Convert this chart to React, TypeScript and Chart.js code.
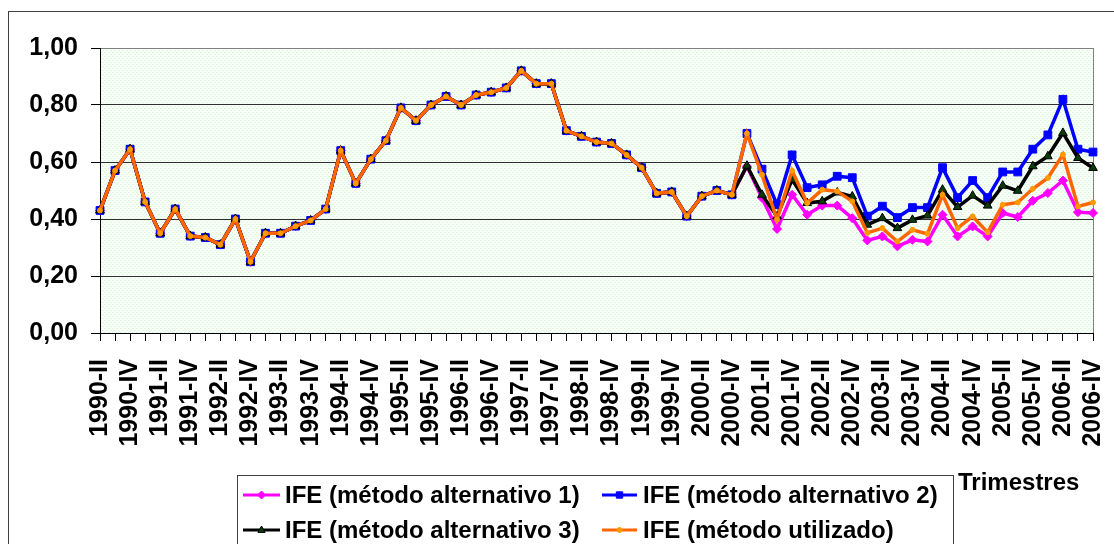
import React, { useEffect, useRef } from 'react';
import { Chart, registerables } from 'chart.js';

Chart.register(...registerables);

const quarters = [
  '1990-II', '1990-III', '1990-IV',
  '1991-I', '1991-II', '1991-III', '1991-IV',
  '1992-I', '1992-II', '1992-III', '1992-IV',
  '1993-I', '1993-II', '1993-III', '1993-IV',
  '1994-I', '1994-II', '1994-III', '1994-IV',
  '1995-I', '1995-II', '1995-III', '1995-IV',
  '1996-I', '1996-II', '1996-III', '1996-IV',
  '1997-I', '1997-II', '1997-III', '1997-IV',
  '1998-I', '1998-II', '1998-III', '1998-IV',
  '1999-I', '1999-II', '1999-III', '1999-IV',
  '2000-I', '2000-II', '2000-III', '2000-IV',
  '2001-I', '2001-II', '2001-III', '2001-IV',
  '2002-I', '2002-II', '2002-III', '2002-IV',
  '2003-I', '2003-II', '2003-III', '2003-IV',
  '2004-I', '2004-II', '2004-III', '2004-IV',
  '2005-I', '2005-II', '2005-III', '2005-IV',
  '2006-I', '2006-II', '2006-III', '2006-IV',
];

const alt1 = [
  0.43, 0.57, 0.645, 0.46, 0.35, 0.435, 0.34, 0.335, 0.31, 0.40, 0.25,
  0.35, 0.35, 0.375, 0.395, 0.435, 0.64, 0.525, 0.61, 0.675, 0.79, 0.745,
  0.80, 0.83, 0.80, 0.835, 0.845, 0.86, 0.92, 0.875, 0.875, 0.71, 0.69,
  0.67, 0.665, 0.625, 0.58, 0.49, 0.495, 0.41, 0.48, 0.50, 0.485,
  0.585, 0.474, 0.365, 0.485, 0.415, 0.447, 0.447, 0.403, 0.325, 0.339, 0.304, 0.327,
  0.321, 0.415, 0.339, 0.374, 0.339, 0.421, 0.407, 0.464, 0.491, 0.535, 0.424, 0.421,
];

const alt2 = [
  0.43, 0.57, 0.645, 0.46, 0.35, 0.435, 0.34, 0.335, 0.31, 0.40, 0.25,
  0.35, 0.35, 0.375, 0.395, 0.435, 0.64, 0.525, 0.61, 0.675, 0.79, 0.745,
  0.80, 0.83, 0.80, 0.835, 0.845, 0.86, 0.92, 0.875, 0.875, 0.71, 0.69,
  0.67, 0.665, 0.625, 0.58, 0.49, 0.495, 0.41, 0.48, 0.50, 0.485,
  0.70, 0.575, 0.45, 0.625, 0.51, 0.52, 0.55, 0.545, 0.41, 0.445, 0.405, 0.44,
  0.44, 0.58, 0.475, 0.535, 0.475, 0.565, 0.565, 0.645, 0.695, 0.82, 0.645, 0.635,
];

const alt3 = [
  0.43, 0.57, 0.645, 0.46, 0.35, 0.435, 0.34, 0.335, 0.31, 0.40, 0.25,
  0.35, 0.35, 0.375, 0.395, 0.435, 0.64, 0.525, 0.61, 0.675, 0.79, 0.745,
  0.80, 0.83, 0.80, 0.835, 0.845, 0.86, 0.92, 0.875, 0.875, 0.71, 0.69,
  0.67, 0.665, 0.625, 0.58, 0.49, 0.495, 0.41, 0.48, 0.50, 0.485,
  0.587, 0.485, 0.409, 0.538, 0.456, 0.462, 0.493, 0.479, 0.38, 0.403, 0.368, 0.397,
  0.412, 0.503, 0.442, 0.482, 0.447, 0.517, 0.499, 0.585, 0.62, 0.702, 0.614, 0.579,
];

const utilizado = [
  0.43, 0.57, 0.645, 0.46, 0.35, 0.435, 0.34, 0.335, 0.31, 0.40, 0.25,
  0.35, 0.35, 0.375, 0.395, 0.435, 0.64, 0.525, 0.61, 0.675, 0.79, 0.745,
  0.80, 0.83, 0.80, 0.835, 0.845, 0.86, 0.92, 0.875, 0.875, 0.71, 0.69,
  0.67, 0.665, 0.625, 0.58, 0.49, 0.495, 0.41, 0.48, 0.50, 0.485,
  0.70, 0.555, 0.398, 0.569, 0.456, 0.503, 0.497, 0.462, 0.351, 0.368, 0.321, 0.362,
  0.348, 0.485, 0.368, 0.409, 0.353, 0.45, 0.458, 0.506, 0.544, 0.626, 0.444, 0.458,
];

const seriesNames = [
  'IFE (método alternativo 1)',
  'IFE (método alternativo 2)',
  'IFE (método alternativo 3)',
  'IFE (método utilizado)',
];

const xAxisTitle = 'Trimestres';

const FONT_FAMILY = 'Arial, "Liberation Sans", Helvetica, sans-serif';

type Style = { line: string; fill: string; border: string; shape: string; r: number; lr: number };
const styles: Style[] = [
  { line: '#FF00FF', fill: '#FF00FF', border: '#FF00FF', shape: 'rectRot', r: 4.5, lr: 4 },
  { line: '#0000FF', fill: '#0000FF', border: '#0000FF', shape: 'rect', r: 5.5, lr: 4.5 },
  { line: '#000000', fill: '#0B3A0B', border: '#000000', shape: 'triangle', r: 5, lr: 4 },
  { line: '#FF6600', fill: '#FF9900', border: '#FF9900', shape: 'circle', r: 2.5, lr: 2.5 },
];

function drawMarker(ctx: CanvasRenderingContext2D, s: Style, x: number, y: number) {
  ctx.save();
  ctx.fillStyle = s.fill;
  ctx.strokeStyle = s.border;
  ctx.lineWidth = 1;
  ctx.beginPath();
  const r = s.lr;
  if (s.shape === 'rect') {
    const h = r * Math.SQRT1_2;
    ctx.rect(x - h, y - h, 2 * h, 2 * h);
  } else if (s.shape === 'rectRot') {
    ctx.moveTo(x, y - r);
    ctx.lineTo(x + r, y);
    ctx.lineTo(x, y + r);
    ctx.lineTo(x - r, y);
    ctx.closePath();
  } else if (s.shape === 'triangle') {
    ctx.moveTo(x, y - r);
    ctx.lineTo(x + r * 0.9, y + r * 0.6);
    ctx.lineTo(x - r * 0.9, y + r * 0.6);
    ctx.closePath();
  } else {
    ctx.arc(x, y, r, 0, Math.PI * 2);
  }
  ctx.fill();
  ctx.stroke();
  ctx.restore();
}

function makePattern(ctx: CanvasRenderingContext2D): CanvasPattern | string {
  const pc = document.createElement('canvas');
  pc.width = 4;
  pc.height = 4;
  const p = pc.getContext('2d');
  if (!p) return '#eefbee';
  p.fillStyle = '#f8fef8';
  p.fillRect(0, 0, 4, 4);
  p.fillStyle = '#d6f6d6';
  p.fillRect(0, 0, 1, 1);
  p.fillRect(2, 2, 1, 1);
  p.fillStyle = '#e8fbe8';
  p.fillRect(1, 0, 1, 1);
  p.fillRect(3, 2, 1, 1);
  return ctx.createPattern(pc, 'repeat') || '#eefbee';
}

const decorPlugin = {
  id: 'decor',
  beforeDraw(chart: any) {
    const { ctx, chartArea } = chart;
    const { left, top, right, bottom } = chartArea;
    ctx.save();
    ctx.fillStyle = '#ffffff';
    ctx.fillRect(0, 0, chart.width, chart.height);
    ctx.fillStyle = makePattern(ctx);
    ctx.fillRect(left, top, right - left, bottom - top);
    ctx.strokeStyle = '#404040';
    ctx.lineWidth = 1;
    ctx.strokeRect(8.5, 11.5, 1300, 800);
    ctx.restore();
  },
  beforeDatasetsDraw(chart: any) {
    const { ctx, chartArea } = chart;
    ctx.save();
    ctx.strokeStyle = '#808080';
    ctx.lineWidth = 1;
    ctx.beginPath();
    ctx.moveTo(Math.round(chartArea.right) + 0.5, chartArea.top);
    ctx.lineTo(Math.round(chartArea.right) + 0.5, chartArea.bottom);
    ctx.stroke();
    ctx.restore();
  },
  afterDraw(chart: any) {
    const { ctx } = chart;
    ctx.save();
    ctx.strokeStyle = '#404040';
    ctx.lineWidth = 1;
    ctx.strokeRect(237.5, 475.5, 716, 200);
    ctx.font = 'bold 24px ' + FONT_FAMILY;
    ctx.textBaseline = 'middle';
    ctx.textAlign = 'left';
    const cols = [
      { x1: 243, x2: 280, tx: 285 },
      { x1: 602, x2: 637, tx: 643 },
    ];
    const rows = [495, 530];
    seriesNames.forEach((name, i) => {
      const c = cols[i % 2];
      const y = rows[Math.floor(i / 2)];
      const s = styles[i];
      ctx.strokeStyle = s.line;
      ctx.lineWidth = 3;
      ctx.beginPath();
      ctx.moveTo(c.x1, y);
      ctx.lineTo(c.x2, y);
      ctx.stroke();
      drawMarker(ctx, s, (c.x1 + c.x2) / 2, y);
      ctx.fillStyle = '#000';
      ctx.fillText(name, c.tx, y + 1);
    });
    ctx.fillStyle = '#000';
    ctx.fillText(xAxisTitle, 958, 483);
    ctx.restore();
  },
};

export default function App() {
  const ref = useRef<HTMLCanvasElement | null>(null);

  useEffect(() => {
    const canvas = ref.current;
    if (!canvas) return;
    const seriesData = [alt1, alt2, alt3, utilizado];
    const orders = [4, 3, 2, 1];
    const chart = new Chart(canvas, {
      type: 'line',
      data: {
        labels: quarters,
        datasets: seriesData.map((d, i) => ({
          label: seriesNames[i],
          data: d,
          borderColor: styles[i].line,
          backgroundColor: styles[i].fill,
          pointBackgroundColor: styles[i].fill,
          pointBorderColor: styles[i].border,
          pointBorderWidth: 1,
          pointStyle: styles[i].shape as any,
          pointRadius: styles[i].r,
          pointHoverRadius: styles[i].r,
          borderWidth: 3.5,
          tension: 0,
          fill: false,
          order: orders[i],
        })),
      },
      options: {
        animation: false,
        responsive: false,
        maintainAspectRatio: false,
        layout: { padding: { left: 0, top: 48, right: 21, bottom: 0 } },
        plugins: {
          legend: { display: false },
          tooltip: { enabled: false },
        },
        scales: {
          x: {
            type: 'category',
            offset: false,
            grid: {
              drawOnChartArea: false,
              drawTicks: true,
              tickLength: 8,
              tickColor: '#000',
              color: '#000',
            },
            border: { color: '#000', width: 1 },
            ticks: {
              autoSkip: false,
              minRotation: 90,
              maxRotation: 90,
              padding: 18,
              color: '#000',
              font: { family: FONT_FAMILY, size: 25, weight: 'bold' },
              callback: (_v: any, i: number) => (i % 2 === 0 ? quarters[i] : ''),
            },
            afterFit: (s: any) => {
              s.height = 211;
              s.paddingLeft = 0;
              s.paddingRight = 0;
            },
          },
          y: {
            min: 0,
            max: 1,
            ticks: {
              stepSize: 0.2,
              padding: 13,
              color: '#000',
              font: { family: FONT_FAMILY, size: 25, weight: 'bold' },
              callback: (v: any) => Number(v).toFixed(2).replace('.', ','),
            },
            grid: {
              color: (c: any) => (c.tick && Math.abs(c.tick.value - 1) < 1e-6 ? '#808080' : '#303030'),
              tickLength: 9,
              tickColor: '#000',
              lineWidth: 1,
            },
            border: { color: '#000', width: 1 },
            afterFit: (s: any) => {
              s.width = 100;
              s.paddingTop = 0;
              s.paddingBottom = 0;
            },
          },
        },
      },
      plugins: [decorPlugin],
    });
    return () => {
      chart.destroy();
    };
  }, []);

  return (
    <div style={{ position: 'absolute', left: 0, top: 0, width: 1114, height: 544 }}>
      <canvas ref={ref} width={1114} height={544} style={{ display: 'block', width: 1114, height: 544 }} />
    </div>
  );
}
